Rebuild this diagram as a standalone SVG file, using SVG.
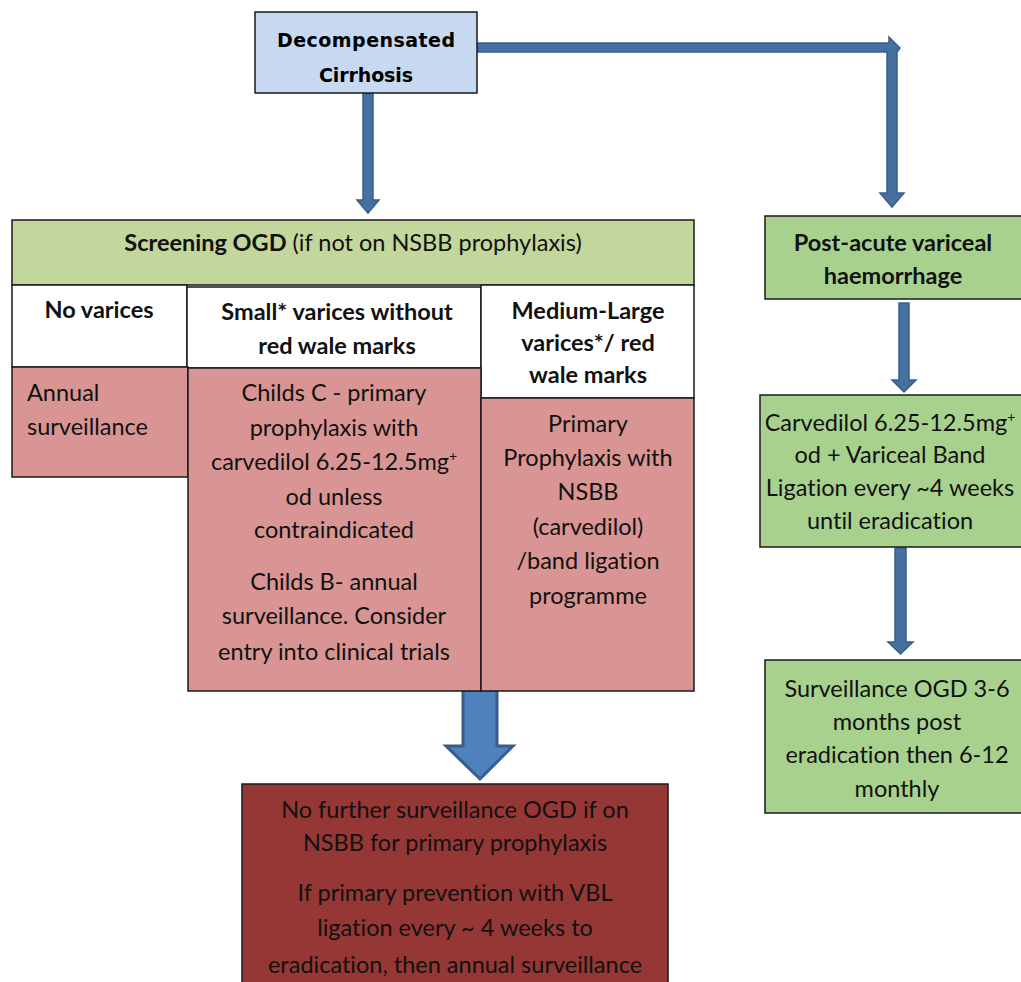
<svg xmlns="http://www.w3.org/2000/svg" width="1021" height="982" viewBox="0 0 1021 982">
<style>
.box{stroke:#1a1a1a;stroke-width:1.5}
.t{font-family:Lato,"Liberation Sans",sans-serif;font-size:23.5px;fill:#111;text-anchor:middle;font-variant-ligatures:none}
.b{font-weight:bold}
.l{text-anchor:start}
.arr{fill:#45709f;stroke:#385d8a;stroke-width:1.5}
.big{fill:#4f81bd;stroke:#385d8a;stroke-width:3}
.sup{font-size:14px}
</style>
<rect width="1021" height="982" fill="#fff"/>
<g id="connectors">
  <path class="arr" d="M363,93 H373 V200 H379 L368,213 L357,200 H363 Z"/>
  <path class="arr" d="M477,43 H889 L889,37 L900,48 L897,52 V193 H904 L892,207 L880,193 H887 V52 H477 Z"/>
  <path class="arr" d="M899,303 H909 V380 H916 L904,392 L892,380 H899 Z"/>
  <path class="arr" d="M895,548 H906 V642 H913 L900.5,654 L888,642 H895 Z"/>
  <path class="big" d="M463,690 H497 V746 H513 L480,779 L446,746 H463 Z"/>
</g>
<g id="decompensated">
  <rect class="box" x="255" y="12" width="222" height="81" fill="#c6d9f1"/>
  <text class="b" x="366" y="47" style="font-family:'DejaVu Sans',sans-serif;font-size:19px;text-anchor:middle" textLength="178">Decompensated</text>
  <text class="b" x="366" y="82" style="font-family:'DejaVu Sans',sans-serif;font-size:19px;text-anchor:middle" textLength="94">Cirrhosis</text>
</g>
<g id="screening">
  <rect class="box" x="12" y="220" width="682" height="65" fill="#c3d69b"/>
  <text class="t" x="353" y="251"><tspan class="b">Screening OGD</tspan> (if not on NSBB prophylaxis)</text>
</g>
<g id="no-varices">
  <rect class="box" x="12" y="285" width="175" height="82" fill="#fff"/>
  <text class="t b" x="99" y="318">No varices</text>
</g>
<g id="small-varices">
  <rect class="box" x="187" y="287" width="294" height="81" fill="#fff"/>
  <text class="t b" x="337" y="320">Small* varices without</text>
  <text class="t b" x="337" y="354">red wale marks</text>
</g>
<g id="medium-large">
  <rect class="box" x="481" y="285" width="213" height="113" fill="#fff"/>
  <text class="t b" x="588" y="319">Medium-Large</text>
  <text class="t b" x="588" y="351">varices*/ red</text>
  <text class="t b" x="588" y="383">wale marks</text>
</g>
<g id="annual">
  <rect class="box" x="12" y="367" width="176" height="110" fill="#d99594"/>
  <text class="t l" x="27" y="401">Annual</text>
  <text class="t l" x="27" y="435">surveillance</text>
</g>
<g id="childs">
  <rect class="box" x="188" y="368" width="293" height="323" fill="#d99594"/>
  <text class="t" x="334" y="401">Childs C - primary</text>
  <text class="t" x="334" y="436">prophylaxis with</text>
  <text class="t" x="334" y="470">carvedilol 6.25-12.5mg<tspan class="sup" dy="-9">+</tspan></text>
  <text class="t" x="334" y="505">od unless</text>
  <text class="t" x="334" y="538">contraindicated</text>
  <text class="t" x="334" y="590">Childs B- annual</text>
  <text class="t" x="334" y="624">surveillance. Consider</text>
  <text class="t" x="334" y="660">entry into clinical trials</text>
</g>
<g id="primary">
  <rect class="box" x="481" y="398" width="213" height="293" fill="#d99594"/>
  <text class="t" x="588" y="432">Primary</text>
  <text class="t" x="588" y="466">Prophylaxis with</text>
  <text class="t" x="588" y="500">NSBB</text>
  <text class="t" x="588" y="535">(carvedilol)</text>
  <text class="t" x="588" y="569">/band ligation</text>
  <text class="t" x="588" y="604">programme</text>
</g>
<g id="no-further">
  <rect class="box" x="242" y="784" width="426" height="205" fill="#953735"/>
  <text class="t" x="455" y="818">No further surveillance OGD if on</text>
  <text class="t" x="455" y="851">NSBB for primary prophylaxis</text>
  <text class="t" x="455" y="901">If primary prevention with VBL</text>
  <text class="t" x="455" y="936">ligation every ~ 4 weeks to</text>
  <text class="t" x="455" y="973">eradication, then annual surveillance</text>
</g>
<g id="post-acute">
  <rect class="box" x="765" y="216" width="262" height="83" fill="#a9d18e"/>
  <text class="t b" x="893" y="251">Post-acute variceal</text>
  <text class="t b" x="893" y="284">haemorrhage</text>
</g>
<g id="carvedilol-vbl">
  <rect class="box" x="760" y="395" width="267" height="152" fill="#a9d18e"/>
  <text class="t" x="890" y="431">Carvedilol 6.25-12.5mg<tspan class="sup" dy="-9">+</tspan></text>
  <text class="t" x="890" y="463">od + Variceal Band</text>
  <text class="t" x="890" y="496">Ligation every ~4 weeks</text>
  <text class="t" x="890" y="529">until eradication</text>
</g>
<g id="surveillance">
  <rect class="box" x="765" y="660" width="262" height="153" fill="#a9d18e"/>
  <text class="t" x="897" y="697">Surveillance OGD 3-6</text>
  <text class="t" x="897" y="730">months post</text>
  <text class="t" x="897" y="763">eradication then 6-12</text>
  <text class="t" x="897" y="797">monthly</text>
</g>
</svg>
